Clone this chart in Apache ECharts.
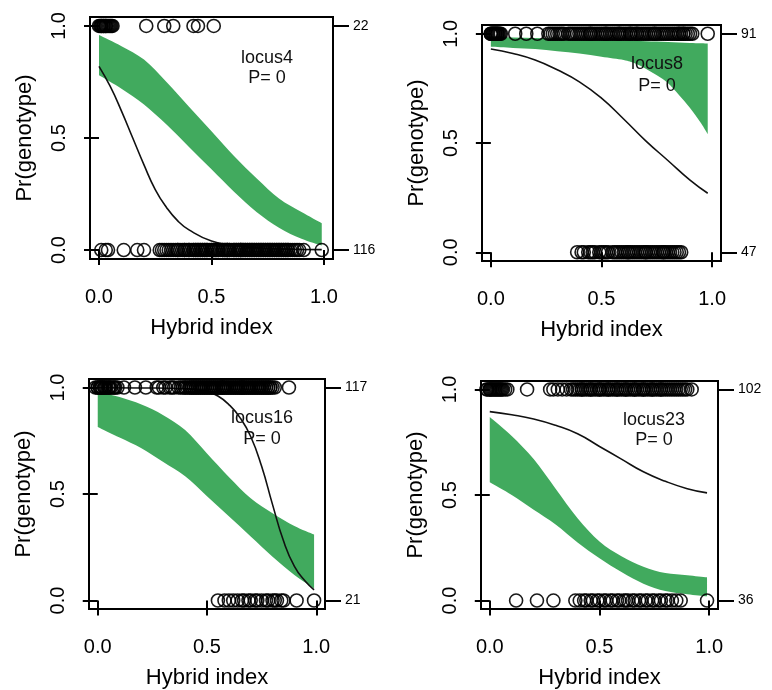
<!DOCTYPE html>
<html><head><meta charset="utf-8">
<script src="https://cdn.jsdelivr.net/npm/echarts@6/dist/echarts.min.js"></script>
<style>html,body{margin:0;padding:0;background:#fff}#c{width:772px;height:690px}</style>
</head><body><div id="c"></div>
<script>
// ---------- DATA ----------
const xTicks = [0, 0.5, 1];
const yTicks = [0, 0.5, 1];

// locus4
const locus4_label = 'locus4';
const locus4_countTop = '22';
const locus4_countBottom = '116';
const locus4_bandX = [0, 0.1, 0.2, 0.3, 0.4, 0.5, 0.6, 0.7, 0.8, 0.9, 0.99];
const locus4_bandUpper = [0.96, 0.91, 0.85, 0.75, 0.64, 0.53, 0.42, 0.32, 0.23, 0.17, 0.12];
const locus4_bandLower = [0.78, 0.72, 0.65, 0.56, 0.46, 0.36, 0.26, 0.17, 0.10, 0.05, 0.02];
const locus4_lineX = [0, 0.05, 0.1, 0.15, 0.2, 0.25, 0.3, 0.35, 0.4, 0.5, 0.6, 0.7, 0.8, 0.9, 0.99];
const locus4_lineY = [0.82, 0.73, 0.62, 0.50, 0.38, 0.27, 0.19, 0.13, 0.09, 0.04, 0.02, 0.01, 0.005, 0.003, 0.002];
const locus4_top = [0.00, 0.005, 0.01, 0.01, 0.015, 0.02, 0.02, 0.025, 0.03, 0.03, 0.035, 0.04, 0.045, 0.05, 0.055, 0.06, 0.21, 0.29, 0.33, 0.42, 0.44, 0.51];
const locus4_bottom = [0.01, 0.03, 0.04, 0.11, 0.17, 0.20,
  0.27, 0.28, 0.29, 0.30, 0.31, 0.32, 0.33, 0.34, 0.35, 0.35, 0.36, 0.37, 0.38, 0.38, 0.39, 0.40, 0.40, 0.41, 0.42, 0.42,
  0.43, 0.43, 0.44, 0.44, 0.45, 0.45, 0.46, 0.46, 0.47, 0.47, 0.48, 0.48, 0.49, 0.50, 0.50, 0.51, 0.51, 0.52, 0.52, 0.53, 0.53,
  0.54, 0.55, 0.55, 0.56, 0.56, 0.57, 0.57, 0.57, 0.58, 0.58, 0.59, 0.60, 0.60, 0.61, 0.61, 0.62, 0.62, 0.63, 0.63, 0.63,
  0.64, 0.64, 0.65, 0.65, 0.66, 0.66, 0.67, 0.67, 0.68, 0.68, 0.69, 0.69, 0.70, 0.70, 0.71, 0.71, 0.72, 0.72, 0.73, 0.73,
  0.74, 0.74, 0.75, 0.75, 0.76, 0.76, 0.77, 0.77, 0.78, 0.78, 0.79, 0.79, 0.80, 0.80, 0.81, 0.81, 0.82, 0.82, 0.83, 0.83,
  0.84, 0.84, 0.85, 0.86, 0.87, 0.88, 0.89, 0.91, 0.99];

// locus8
const locus8_label = 'locus8';
const locus8_countTop = '91';
const locus8_countBottom = '47';
const locus8_bandX = [0, 0.1, 0.2, 0.3, 0.4, 0.5, 0.6, 0.65, 0.7, 0.75, 0.8, 0.85, 0.9, 0.95, 0.98];
const locus8_bandUpper = [0.985, 0.983, 0.98, 0.978, 0.975, 0.972, 0.97, 0.968, 0.966, 0.964, 0.962, 0.96, 0.958, 0.956, 0.955];
const locus8_bandLower = [0.94, 0.935, 0.93, 0.92, 0.91, 0.895, 0.88, 0.865, 0.84, 0.81, 0.775, 0.72, 0.66, 0.59, 0.54];
const locus8_lineX = [0, 0.1, 0.2, 0.3, 0.4, 0.5, 0.6, 0.7, 0.8, 0.9, 0.98];
const locus8_lineY = [0.93, 0.91, 0.88, 0.835, 0.78, 0.705, 0.61, 0.51, 0.42, 0.33, 0.27];
const locus8_top = [0.00, 0.00, 0.005, 0.01, 0.01, 0.015, 0.02, 0.02, 0.025, 0.03, 0.03, 0.035, 0.04, 0.045,
  0.11, 0.16, 0.21,
  0.26, 0.27, 0.28, 0.29, 0.30, 0.31, 0.32, 0.33, 0.35, 0.36, 0.37, 0.38, 0.39, 0.40, 0.41, 0.42, 0.43, 0.44, 0.45, 0.45,
  0.46, 0.47, 0.48, 0.49, 0.50, 0.51, 0.52, 0.52, 0.53, 0.54, 0.55, 0.56, 0.57, 0.58, 0.58, 0.59, 0.60, 0.61, 0.62, 0.63,
  0.63, 0.64, 0.65, 0.66, 0.66, 0.67, 0.68, 0.69, 0.70, 0.71, 0.72, 0.73, 0.74, 0.74, 0.75, 0.76, 0.77, 0.78, 0.79, 0.80,
  0.81, 0.82, 0.83, 0.84, 0.85, 0.85, 0.86, 0.87, 0.87, 0.88, 0.89, 0.90, 0.91, 0.98];
const locus8_bottom = [0.39, 0.41, 0.42, 0.44, 0.45, 0.46, 0.47, 0.49, 0.50, 0.51, 0.52, 0.53, 0.55, 0.56, 0.57, 0.58,
  0.59, 0.60, 0.61, 0.62, 0.62, 0.63, 0.64, 0.65, 0.66, 0.67, 0.68, 0.69, 0.70, 0.70, 0.71, 0.72, 0.73, 0.74, 0.75, 0.76,
  0.77, 0.78, 0.78, 0.79, 0.80, 0.81, 0.82, 0.83, 0.84, 0.85, 0.86];

// locus16
const locus16_label = 'locus16';
const locus16_countTop = '117';
const locus16_countBottom = '21';
const locus16_bandX = [0, 0.1, 0.2, 0.3, 0.4, 0.5, 0.6, 0.7, 0.8, 0.9, 0.99];
const locus16_bandUpper = [0.98, 0.955, 0.92, 0.87, 0.80, 0.69, 0.58, 0.48, 0.41, 0.35, 0.31];
const locus16_bandLower = [0.815, 0.765, 0.715, 0.65, 0.583, 0.49, 0.395, 0.30, 0.205, 0.12, 0.057];
const locus16_lineX = [0, 0.2, 0.4, 0.45, 0.5, 0.55, 0.6, 0.65, 0.7, 0.75, 0.8, 0.85, 0.9, 0.95, 0.99];
const locus16_lineY = [0.999, 0.998, 0.995, 0.99, 0.98, 0.96, 0.92, 0.86, 0.77, 0.63, 0.45, 0.28, 0.16, 0.09, 0.05];
const locus16_top = [-0.01, 0.00, 0.00, 0.01, 0.01, 0.015, 0.02, 0.02, 0.03, 0.03, 0.035, 0.04, 0.05, 0.05, 0.055, 0.06, 0.07, 0.075, 0.08, 0.09,
  0.12, 0.17, 0.22,
  0.27, 0.28, 0.30, 0.31, 0.33, 0.34, 0.35, 0.37, 0.38, 0.39, 0.40, 0.40, 0.41, 0.42, 0.42, 0.43, 0.43, 0.44, 0.44, 0.45,
  0.45, 0.46, 0.46, 0.47, 0.47, 0.48, 0.48, 0.49, 0.49, 0.50, 0.50, 0.51, 0.51, 0.52, 0.52, 0.53, 0.53, 0.54, 0.54, 0.55,
  0.55, 0.56, 0.56, 0.57, 0.57, 0.57, 0.58, 0.58, 0.59, 0.59, 0.60, 0.60, 0.61, 0.61, 0.62, 0.62, 0.63, 0.63, 0.64, 0.64,
  0.65, 0.65, 0.66, 0.66, 0.66, 0.67, 0.67, 0.68, 0.68, 0.69, 0.69, 0.70, 0.70, 0.71, 0.71, 0.72, 0.72, 0.73, 0.73, 0.74,
  0.74, 0.75, 0.75, 0.76, 0.76, 0.77, 0.77, 0.78, 0.78, 0.79, 0.79, 0.80, 0.81, 0.875];
const locus16_bottom = [0.55, 0.58, 0.60, 0.62, 0.64, 0.66, 0.67, 0.69, 0.70, 0.72, 0.73, 0.75, 0.77, 0.78, 0.80, 0.81, 0.82, 0.84, 0.85, 0.91, 0.99];

// locus23
const locus23_label = 'locus23';
const locus23_countTop = '102';
const locus23_countBottom = '36';
const locus23_bandX = [0, 0.1, 0.2, 0.3, 0.4, 0.5, 0.6, 0.7, 0.8, 0.9, 0.99];
const locus23_bandUpper = [0.87, 0.78, 0.67, 0.53, 0.39, 0.28, 0.21, 0.16, 0.13, 0.12, 0.11];
const locus23_bandLower = [0.56, 0.50, 0.43, 0.36, 0.275, 0.20, 0.135, 0.08, 0.045, 0.03, 0.02];
const locus23_lineX = [0, 0.1, 0.2, 0.3, 0.4, 0.5, 0.6, 0.7, 0.8, 0.9, 0.99];
const locus23_lineY = [0.895, 0.88, 0.86, 0.83, 0.79, 0.73, 0.67, 0.61, 0.565, 0.53, 0.51];
const locus23_top = [-0.015, -0.01, 0.00, 0.00, 0.005, 0.01, 0.015, 0.02, 0.025, 0.03, 0.035, 0.04, 0.045, 0.05, 0.055, 0.06, 0.07, 0.08,
  0.17,
  0.275, 0.29, 0.31, 0.33, 0.35, 0.37, 0.38, 0.39, 0.40, 0.41, 0.42, 0.42, 0.43, 0.44, 0.45, 0.46, 0.46, 0.47, 0.48, 0.49,
  0.50, 0.50, 0.51, 0.52, 0.53, 0.54, 0.54, 0.55, 0.56, 0.57, 0.58, 0.58, 0.59, 0.60, 0.61, 0.62, 0.62, 0.63, 0.64, 0.65,
  0.66, 0.66, 0.67, 0.68, 0.69, 0.70, 0.70, 0.71, 0.72, 0.73, 0.74, 0.74, 0.75, 0.76, 0.77, 0.78, 0.78, 0.79, 0.80, 0.81,
  0.82, 0.83, 0.84, 0.85, 0.86, 0.87, 0.88, 0.89, 0.90, 0.92];
const locus23_bottom = [0.12, 0.215, 0.29,
  0.39, 0.41, 0.43, 0.44, 0.46, 0.47, 0.49, 0.50, 0.52, 0.53, 0.55, 0.56, 0.58, 0.59, 0.61, 0.62, 0.63, 0.65, 0.66, 0.68,
  0.69, 0.71, 0.72, 0.74, 0.75, 0.77, 0.78, 0.80, 0.81, 0.83, 0.85, 0.87, 0.99];

// ---------- LAYOUT ----------
const FONT = '"Liberation Sans", Arial, Helvetica, sans-serif';
const GREEN = '#41aa5e';

// Shape: closed band whose two edges are drawn as smooth canvas bezier curves
echarts.graphic.registerShape('band', echarts.graphic.extendShape({
  shape: { up: [], lo: [] },
  buildPath(ctx, shape) {
    const edge = (pts, first) => {
      if (!pts.length) return;
      if (first) ctx.moveTo(pts[0][0], pts[0][1]); else ctx.lineTo(pts[0][0], pts[0][1]);
      const n = pts.length;
      for (let i = 0; i < n - 1; i++) {
        const p0 = pts[Math.max(i - 1, 0)], p1 = pts[i], p2 = pts[i + 1], p3 = pts[Math.min(i + 2, n - 1)];
        ctx.bezierCurveTo(
          p1[0] + (p2[0] - p0[0]) / 6, p1[1] + (p2[1] - p0[1]) / 6,
          p2[0] - (p3[0] - p1[0]) / 6, p2[1] - (p3[1] - p1[1]) / 6,
          p2[0], p2[1]);
      }
    };
    edge(shape.up, true);
    edge(shape.lo.slice().reverse(), false);
    ctx.closePath();
  }
}));

const panels = [
  { label: locus4_label, ct: locus4_countTop, cb: locus4_countBottom, bx: locus4_bandX, bu: locus4_bandUpper, bl: locus4_bandLower,
    lx: locus4_lineX, ly: locus4_lineY, top: locus4_top, bot: locus4_bottom,
    grid: { left: 90, top: 17, width: 243, height: 242 }, text: [267, 58, 78] },
  { label: locus8_label, ct: locus8_countTop, cb: locus8_countBottom, bx: locus8_bandX, bu: locus8_bandUpper, bl: locus8_bandLower,
    lx: locus8_lineX, ly: locus8_lineY, top: locus8_top, bot: locus8_bottom,
    grid: { left: 482, top: 25, width: 239, height: 236 }, text: [657, 64, 86] },
  { label: locus16_label, ct: locus16_countTop, cb: locus16_countBottom, bx: locus16_bandX, bu: locus16_bandUpper, bl: locus16_bandLower,
    lx: locus16_lineX, ly: locus16_lineY, top: locus16_top, bot: locus16_bottom,
    grid: { left: 89, top: 379, width: 236, height: 234 }, text: [262, 418, 439] },
  { label: locus23_label, ct: locus23_countTop, cb: locus23_countBottom, bx: locus23_bandX, bu: locus23_bandUpper, bl: locus23_bandLower,
    lx: locus23_lineX, ly: locus23_lineY, top: locus23_top, bot: locus23_bottom,
    grid: { left: 481, top: 381, width: 237, height: 234 }, text: [654, 420, 440] }
];

const grids = [], xAxes = [], yAxes = [], series = [], graphics = [];
panels.forEach((p, i) => {
  grids.push(Object.assign({ show: true, z: 10, borderColor: '#000', borderWidth: 2, backgroundColor: 'transparent' }, p.grid));
  xAxes.push({
    type: 'value', gridIndex: i, min: -0.04, max: 1.04,
    axisLine: { show: false }, splitLine: { show: false },
    axisTick: { show: true, customValues: xTicks, length: 15, lineStyle: { color: '#000', width: 2 } },
    axisLabel: { customValues: xTicks, formatter: v => v.toFixed(1), fontSize: 20, color: '#000', margin: 28, fontFamily: FONT },
    name: 'Hybrid index', nameLocation: 'middle', nameGap: 58,
    nameTextStyle: { fontSize: 22, color: '#000', fontFamily: FONT }
  });
  yAxes.push({
    type: 'value', gridIndex: i, min: -0.04, max: 1.04, position: 'left',
    axisLine: { show: false }, splitLine: { show: false },
    axisTick: { show: true, customValues: yTicks, length: 15, lineStyle: { color: '#000', width: 2 } },
    axisLabel: { customValues: yTicks, rotate: 90, formatter: v => v.toFixed(1), fontSize: 20, color: '#000', margin: 21, fontFamily: FONT },
    name: 'Pr(genotype)', nameLocation: 'middle', nameRotate: 90, nameGap: 54,
    nameTextStyle: { fontSize: 22, color: '#000', fontFamily: FONT }
  });
  yAxes.push({
    type: 'value', gridIndex: i, min: -0.04, max: 1.04, position: 'right',
    axisLine: { show: false }, splitLine: { show: false },
    axisTick: { show: true, customValues: [0, 1], length: 16, lineStyle: { color: '#000', width: 2 } },
    axisLabel: { customValues: [0, 1], formatter: v => (v === 1 ? p.ct : p.cb), fontSize: 14, color: '#000', margin: 20, fontFamily: FONT }
  });
  const yl = 2 * i;
  // green confidence band, positioned through the axes (api.coord)
  series.push({
    type: 'custom', xAxisIndex: i, yAxisIndex: yl, silent: true, z: 1,
    encode: { x: 0, y: [1, 2] },
    data: p.bx.map((x, k) => [x, p.bl[k], p.bu[k]]),
    renderItem: (params, api) => {
      if (params.dataIndex !== 0) return null;
      return {
        type: 'band',
        shape: {
          up: p.bx.map((x, k) => api.coord([x, p.bu[k]])),
          lo: p.bx.map((x, k) => api.coord([x, p.bl[k]]))
        },
        style: { fill: GREEN, stroke: null }
      };
    }
  });
  series.push({
    type: 'line', xAxisIndex: i, yAxisIndex: yl, smooth: true, symbol: 'none',
    lineStyle: { width: 1.6, color: '#111' }, silent: true, z: 3,
    data: p.lx.map((x, k) => [x, p.ly[k]])
  });
  [[p.top, 1], [p.bot, 0]].forEach(([arr, yv]) => {
    series.push({
      type: 'scatter', xAxisIndex: i, yAxisIndex: yl, symbol: 'circle', symbolSize: 13, silent: true, z: 4,
      itemStyle: { color: 'rgba(255,255,255,0)', borderColor: '#000', borderWidth: 1.6, opacity: 0.9 },
      data: arr.map(x => [x, yv])
    });
  });
  graphics.push({ type: 'text', x: p.text[0], y: p.text[1], z: 100,
    style: { text: p.label, fill: '#111', fontSize: 18, fontFamily: FONT, align: 'center', verticalAlign: 'middle' } });
  graphics.push({ type: 'text', x: p.text[0], y: p.text[2], z: 100,
    style: { text: 'P= 0', fill: '#111', fontSize: 18, fontFamily: FONT, align: 'center', verticalAlign: 'middle' } });
});

const chart = echarts.init(document.getElementById('c'), null, { renderer: 'canvas' });
chart.setOption({
  animation: false,
  backgroundColor: '#fff',
  grid: grids, xAxis: xAxes, yAxis: yAxes, series: series, graphic: graphics
});
</script></body></html>
